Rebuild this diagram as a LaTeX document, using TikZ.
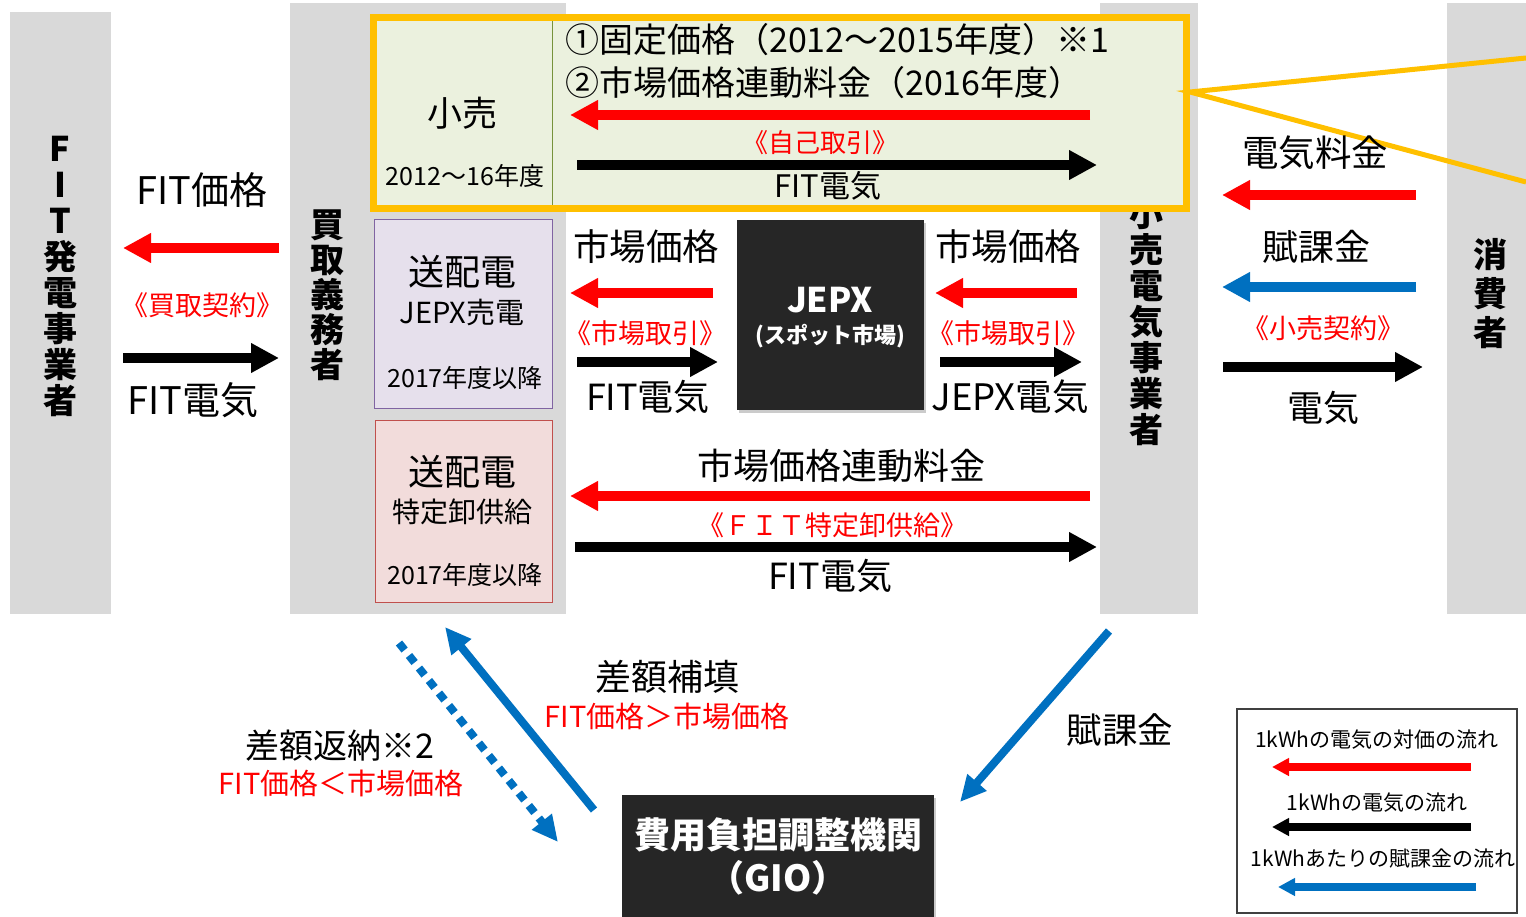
\documentclass[tikz,border=0pt]{standalone}
\usepackage{fontspec}
\setmainfont{Noto Sans CJK JP}
\usetikzlibrary{arrows.meta,shadows}
\definecolor{colgray}{HTML}{D9D9D9}
\definecolor{orng}{HTML}{FFC000}
\definecolor{lgreen}{HTML}{EBF1DE}
\definecolor{olivec}{HTML}{77933C}
\definecolor{lpurple}{HTML}{E6E0EC}
\definecolor{purpb}{HTML}{8064A2}
\definecolor{lpink}{HTML}{F2DCDB}
\definecolor{pinkb}{HTML}{C0504D}
\definecolor{darkbox}{HTML}{262626}
\definecolor{blu}{HTML}{0070C0}
\definecolor{redc}{HTML}{FF0000}
\definecolor{legb}{HTML}{404040}
\begin{document}
\begin{tikzpicture}[x=1pt,y=-1pt,
  fs/.style={font=\fontsize{#1}{#1}\selectfont},
  bfs/.style={font=\fontsize{#1}{#1}\selectfont\bfseries},
  lbl/.style={inner sep=0pt},
  redlbl/.style={inner sep=0pt,text=redc},
  vtext/.style={inner sep=0pt,align=center,font=\fontsize{34}{#1}\selectfont\bfseries},
  bigarrow/.style={line width=10pt,-{Triangle[length=28pt,width=28pt]}},
  redarrow/.style={bigarrow,draw=redc},
  blackarrow/.style={bigarrow,draw=black},
  bluearrow/.style={bigarrow,draw=blu},
  legarrow/.style={line width=8pt,-{Triangle[length=17pt,width=17pt]}},
  diagarrow/.style={line width=8pt,draw=blu,-{Triangle[length=26pt,width=24pt]}},
  darkbox/.style={fill=darkbox,draw=none,drop shadow={shadow xshift=2pt,shadow yshift=-3pt,fill=black!40}},
]
\useasboundingbox (0,0) rectangle (1526,917);
\fill[white] (0,0) rectangle (1526,917);

% columns
\fill[colgray] (10,12) rectangle (111,614);
\fill[colgray] (290,3) rectangle (566,614);
\fill[colgray] (1100,3) rectangle (1198,614);
\fill[colgray] (1447,3) rectangle (1526,614);

\node[vtext=36] (c1) at (60,276) {F\\I\\T\\発\\電\\事\\業\\者};
\node[vtext=35] (c2) at (327,295) {買\\取\\義\\務\\者};
\node[vtext=36] (c3) at (1146,322) {小\\売\\電\\気\\事\\業\\者};
\node[vtext=39] (c4) at (1490,294) {消\\費\\者};

% orange box
\draw[orng,line width=7pt,fill=lgreen] (373.5,17.5) rectangle (1186.5,208.5);
\draw[olivec,line width=0.8pt] (552,21) -- (552,205);
\coordinate (oz) at (1190,92);
\coordinate (oz1) at (1526,58);
\coordinate (oz2) at (1526,182);
\draw[orng,line width=5pt] (oz1) -- (oz) -- (oz2);

\node[lbl,fs=35] (kouri) at (462,113) {小売};
\node[lbl,fs=25] (kouriy) at (465,176) {2012～16年度};
\node[lbl,fs=34,anchor=west] (t1) at (565,40) {①固定価格（2012～2015年度）※1};
\node[lbl,fs=34,anchor=west] (t2) at (565,83) {②市場価格連動料金（2016年度）};
\coordinate (ra1) at (1090,115); \coordinate (ra2) at (570,115);
\draw[redarrow] (ra1) -- (ra2);
\node[redlbl,fs=26] (jiko) at (820,143) {《自己取引》};
\coordinate (ba1) at (577,165); \coordinate (ba2) at (1097,165);
\draw[blackarrow] (ba1) -- (ba2);
\node[lbl,fs=31] (fitd0) at (828,186) {FIT電気};

% purple and pink boxes
\draw[purpb,line width=1pt,fill=lpurple] (374,220) rectangle (552,408);
\node[lbl,fs=36] (p1) at (462,272) {送配電};
\node[lbl,fs=29] (p2) at (462,312) {JEPX売電};
\node[lbl,fs=25] (p3) at (465,378) {2017年度以降};
\draw[pinkb,line width=1pt,fill=lpink] (375,420) rectangle (552,602);
\node[lbl,fs=36] (q1) at (462,472) {送配電};
\node[lbl,fs=28] (q2) at (462,512) {特定卸供給};
\node[lbl,fs=25] (q3) at (465,575) {2017年度以降};

% JEPX
\path[darkbox] (737,220) rectangle (924,410);
\node[lbl,bfs=34,text=white] (jepx) at (830,300) {JEPX};
\node[lbl,bfs=22,text=white] (spot) at (830,336) {(スポット市場)};

\node[lbl,fs=36.5] (m1) at (646,247) {市場価格};
\coordinate (r1a) at (713,293); \coordinate (r1b) at (570,293);
\draw[redarrow] (r1a) -- (r1b);
\node[redlbl,fs=27] (m2) at (645,333) {《市場取引》};
\coordinate (b1a) at (577,362); \coordinate (b1b) at (718,362);
\draw[blackarrow] (b1a) -- (b1b);
\node[lbl,fs=36] (m3) at (648,397) {FIT電気};

\node[lbl,fs=36.5] (n1) at (1008,247) {市場価格};
\coordinate (r2a) at (1077,293); \coordinate (r2b) at (935,293);
\draw[redarrow] (r2a) -- (r2b);
\node[redlbl,fs=27] (n2) at (1008,333) {《市場取引》};
\coordinate (b2a) at (940,362); \coordinate (b2b) at (1082,362);
\draw[blackarrow] (b2a) -- (b2b);
\node[lbl,fs=36.5] (n3) at (1010,397) {JEPX電気};

% bottom middle
\node[lbl,fs=36] (s1) at (841,466) {市場価格連動料金};
\coordinate (r3a) at (1090,496); \coordinate (r3b) at (570,496);
\draw[redarrow] (r3a) -- (r3b);
\node[redlbl,fs=27] (s2) at (832,525) {《ＦＩＴ特定卸供給》};
\coordinate (b3a) at (575,547); \coordinate (b3b) at (1097,547);
\draw[blackarrow] (b3a) -- (b3b);
\node[lbl,fs=36] (s3) at (830,576) {FIT電気};

% left
\node[lbl,fs=38] (l1) at (202,190) {FIT価格};
\coordinate (r4a) at (279,248); \coordinate (r4b) at (123,248);
\draw[redarrow] (r4a) -- (r4b);
\node[redlbl,fs=27] (l2) at (202,305) {《買取契約》};
\coordinate (b4a) at (123,358); \coordinate (b4b) at (279,358);
\draw[blackarrow] (b4a) -- (b4b);
\node[lbl,fs=38] (l3) at (193,400) {FIT電気};

% right
\node[lbl,fs=36.5] (k1) at (1315,153) {電気料金};
\coordinate (r5a) at (1416,195); \coordinate (r5b) at (1222,195);
\draw[redarrow] (r5a) -- (r5b);
\node[lbl,fs=36] (k2) at (1316,247) {賦課金};
\coordinate (u5a) at (1416,287); \coordinate (u5b) at (1222,287);
\draw[bluearrow] (u5a) -- (u5b);
\node[redlbl,fs=27] (k3) at (1323,328) {《小売契約》};
\coordinate (b5a) at (1223,367); \coordinate (b5b) at (1423,367);
\draw[blackarrow] (b5a) -- (b5b);
\node[lbl,fs=36] (k4) at (1323,408) {電気};

% GIO
\path[darkbox] (622,795) rectangle (934,930);
\node[lbl,bfs=36,text=white] (gio1) at (778,835) {費用負担調整機関};
\node[lbl,bfs=36,text=white] (gio2) at (778,878) {（GIO）};

\coordinate (d1a) at (594,810); \coordinate (d1b) at (445,627);
\draw[diagarrow] (d1a) -- (d1b);
\coordinate (d2a) at (399,643); \coordinate (d2b) at (558,842);
\draw[diagarrow,dash pattern=on 9pt off 7pt] (d2a) -- (d2b);
\coordinate (d3a) at (1109,631); \coordinate (d3b) at (960,802);
\draw[diagarrow] (d3a) -- (d3b);

\node[lbl,fs=36] (g1) at (667,677) {差額補填};
\node[redlbl,fs=29] (g2) at (667,716) {FIT価格＞市場価格};
\node[lbl,fs=34] (g3) at (340,746) {差額返納※2};
\node[redlbl,fs=29] (g4) at (341,783) {FIT価格＜市場価格};
\node[lbl,fs=35.5] (g5) at (1120,730) {賦課金};

% legend
\draw[legb,line width=1.2pt] (1237,709) rectangle (1517,913);
\node[lbl,fs=21] (e1) at (1377,740) {1kWhの電気の対価の流れ};
\coordinate (e1a) at (1471,767); \coordinate (e1b) at (1272,767);
\draw[legarrow,draw=redc] (e1a) -- (e1b);
\node[lbl,fs=21] (e2) at (1377,803) {1kWhの電気の流れ};
\coordinate (e2a) at (1471,827); \coordinate (e2b) at (1272,827);
\draw[legarrow,draw=black] (e2a) -- (e2b);
\node[lbl,fs=21] (e3) at (1383,859) {1kWhあたりの賦課金の流れ};
\coordinate (e3a) at (1476,887); \coordinate (e3b) at (1278,887);
\draw[legarrow,draw=blu] (e3a) -- (e3b);
\end{tikzpicture}
\end{document}
